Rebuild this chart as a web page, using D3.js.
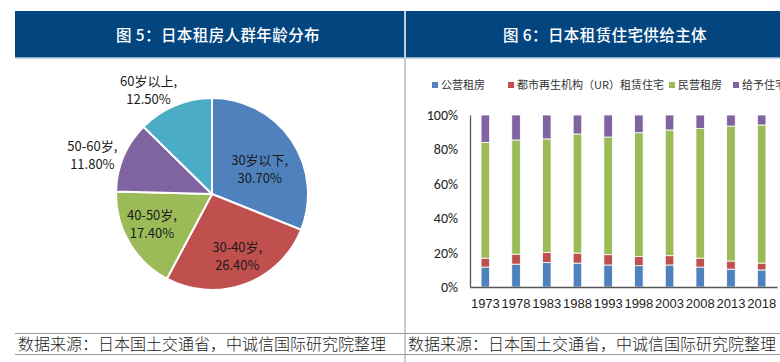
<!DOCTYPE html>
<html lang="zh">
<head>
<meta charset="utf-8">
<title>日本租房</title>
<script src="https://cdn.jsdelivr.net/npm/d3@7"></script>
<style>
  body { margin:0; background:#fff; }
  svg text { font-family: "Noto Sans CJK SC", "Noto Sans", sans-serif; }
</style>
</head>
<body>
<script>
// pie data
var ageGroups = ["30岁以下", "30-40岁", "40-50岁", "50-60岁", "60岁以上"];
var ageShares = [30.7, 26.4, 17.4, 11.8, 12.5];
var ageColors = ["#4f81bd", "#c0504d", "#9bbb59", "#8064a2", "#4bacc6"];

// stacked bar data (% of rental stock)
var years = ["1973","1978","1983","1988","1993","1998","2003","2008","2013","2018"];
var seriesNames = ["公营租房", "都市再生机构（UR）租赁住宅", "民营租房", "给予住宅"];
var publicRent = [11.6, 13.3, 14.3, 13.9, 12.8, 12.4, 12.8, 11.6, 10.4, 9.9];
var urRent     = [5.2, 5.8, 5.8, 5.8, 6.0, 5.4, 5.4, 5.2, 4.7, 4.0];
var privateRent= [67.3, 66.4, 66.0, 69.3, 68.4, 71.9, 73.1, 75.3, 78.5, 80.3];
var companyRent= [15.9, 14.5, 13.9, 11.0, 12.8, 10.3, 8.7, 7.9, 6.4, 5.8];
var barColors = ["#4f81bd", "#c0504d", "#9bbb59", "#8064a2"];
var yTicks = [0, 20, 40, 60, 80, 100];

var W = 780, H = 362;
var svg = d3.select("body").append("svg").attr("width", W).attr("height", H);

// headers
svg.append("rect").attr("x", 15).attr("y", 11).attr("width", 389).attr("height", 47).attr("fill", "#03467f");
svg.append("rect").attr("x", 406).attr("y", 11).attr("width", 374).attr("height", 47).attr("fill", "#03467f");
svg.append("rect").attr("x", 15).attr("y", 57).attr("width", 765).attr("height", 1.5).attr("fill", "#8eaed0");
svg.append("rect").attr("x", 404).attr("y", 11).attr("width", 2).attr("height", H - 11).attr("fill", "#c5ccd6");

function title(xc, txt) {
  svg.append("text").attr("x", xc).attr("y", 41).attr("text-anchor", "middle")
    .attr("fill", "#fff").style("font-size", "15.5px").style("font-weight", "500")
    .style("letter-spacing", "0.4px")
    .text(txt);
}
title(218, "图 5：日本租房人群年龄分布");
title(605, "图 6：日本租赁住宅供给主体");

// source lines
[333, 354].forEach(function(y){
  svg.append("rect").attr("x", 15).attr("y", y).attr("width", 765).attr("height", 1).attr("fill", "#999");
});
svg.append("text").attr("x", 18).attr("y", 350).attr("fill", "#222").style("font-size", "16px")
  .style("font-weight", "300")
  .text("数据来源：日本国土交通省，中诚信国际研究院整理");
svg.append("text").attr("x", 408).attr("y", 350).attr("fill", "#222").style("font-size", "16px")
  .style("font-weight", "300")
  .text("数据来源：日本国土交通省，中诚信国际研究院整理");

// ---- pie ----
var cx = 212, cy = 194, r = 96;
var pie = d3.pie().sort(null).value(function(d){ return d; });
var arc = d3.arc().innerRadius(0).outerRadius(r);
var arcs = pie(ageShares);
var pg = svg.append("g").attr("transform", "translate(" + cx + "," + cy + ")");
pg.selectAll("path").data(arcs).enter().append("path")
  .attr("d", arc)
  .attr("fill", function(d, i){ return ageColors[i]; })
  .attr("stroke", "#fff").attr("stroke-width", 2);

// label placement: radius factor and angle nudge (degrees)
var labelR = [0.56, 0.70, 0.70, 1.31, 1.27];
var labelNudge = [6.6, -2, 3.6, -5, -8.6];
var labelPos = arcs.map(function(d, i){
  var a = (d.startAngle + d.endAngle) / 2 + labelNudge[i] * Math.PI / 180;
  return [Math.sin(a) * r * labelR[i], -Math.cos(a) * r * labelR[i]];
});
var lab = pg.selectAll("g.lab").data(arcs).enter().append("g").attr("class", "lab")
  .attr("transform", function(d, i){ return "translate(" + labelPos[i][0] + "," + labelPos[i][1] + ")"; });
lab.append("text").attr("text-anchor", "middle").attr("y", -4)
  .attr("fill", "#1a1a1a").style("font-size", "13px")
  .text(function(d, i){ return ageGroups[i] + ","; });
lab.append("text").attr("text-anchor", "middle").attr("y", 14)
  .attr("fill", "#1a1a1a").style("font-size", "13px")
  .text(function(d, i){ return ageShares[i].toFixed(2) + "%"; });

// ---- stacked bars ----
var x0 = 470, x1 = 777, yTop = 115, yBot = 287;
var x = d3.scaleBand().domain(years).range([x0, x1]).paddingInner(0.72).paddingOuter(0.36);
var y = d3.scaleLinear().domain([0, 100]).range([yBot, yTop]);

var rows = years.map(function(yr, i){
  return { year: yr, s0: publicRent[i], s1: urRent[i], s2: privateRent[i], s3: companyRent[i] };
});
var stack = d3.stack().keys(["s0", "s1", "s2", "s3"])
  .offset(d3.stackOffsetExpand);
var layers = stack(rows);

var bg = svg.append("g");
bg.selectAll("g").data(layers).enter().append("g")
  .attr("fill", function(d, i){ return barColors[i]; })
  .selectAll("rect").data(function(d){ return d; }).enter().append("rect")
  .attr("x", function(d){ return x(d.data.year); })
  .attr("width", x.bandwidth())
  .attr("y", function(d){ return y(d[1] * 100); })
  .attr("height", function(d){ return y(d[0] * 100) - y(d[1] * 100); })
  .attr("stroke", "#fff").attr("stroke-width", 0.8);

var yAxis = svg.append("g").attr("transform", "translate(" + x0 + ",0)")
  .call(d3.axisLeft(y).tickValues(yTicks).tickFormat(function(d){ return d + "%"; }).tickSize(0).tickPadding(12));
yAxis.select(".domain").attr("stroke", "#555").attr("stroke-width", 1.3);
yAxis.selectAll("text").style("font-size", "14px").attr("fill", "#222")
  .style("font-family", "Calibri, 'Liberation Sans', 'Noto Sans', sans-serif");

var xAxis = svg.append("g").attr("transform", "translate(0," + yBot + ")")
  .call(d3.axisBottom(x).tickSize(0).tickPadding(12));
xAxis.select(".domain").attr("stroke", "#555").attr("stroke-width", 1.3);
xAxis.selectAll("text").style("font-size", "13px").attr("fill", "#222")
  .style("font-family", "'Liberation Sans Narrow', 'Liberation Sans', sans-serif");

// legend
var legX = [432, 508, 669, 733];
var leg = svg.append("g").selectAll("g").data(seriesNames).enter().append("g")
  .attr("transform", function(d, i){ return "translate(" + legX[i] + ",85)"; });
leg.append("rect").attr("x", 0).attr("y", -3).attr("width", 6).attr("height", 6)
  .attr("fill", function(d, i){ return barColors[i]; });
leg.append("text").attr("x", 9).attr("y", 4).attr("fill", "#333").style("font-size", "11px")
  .text(function(d){ return d; });
</script>
</body>
</html>
